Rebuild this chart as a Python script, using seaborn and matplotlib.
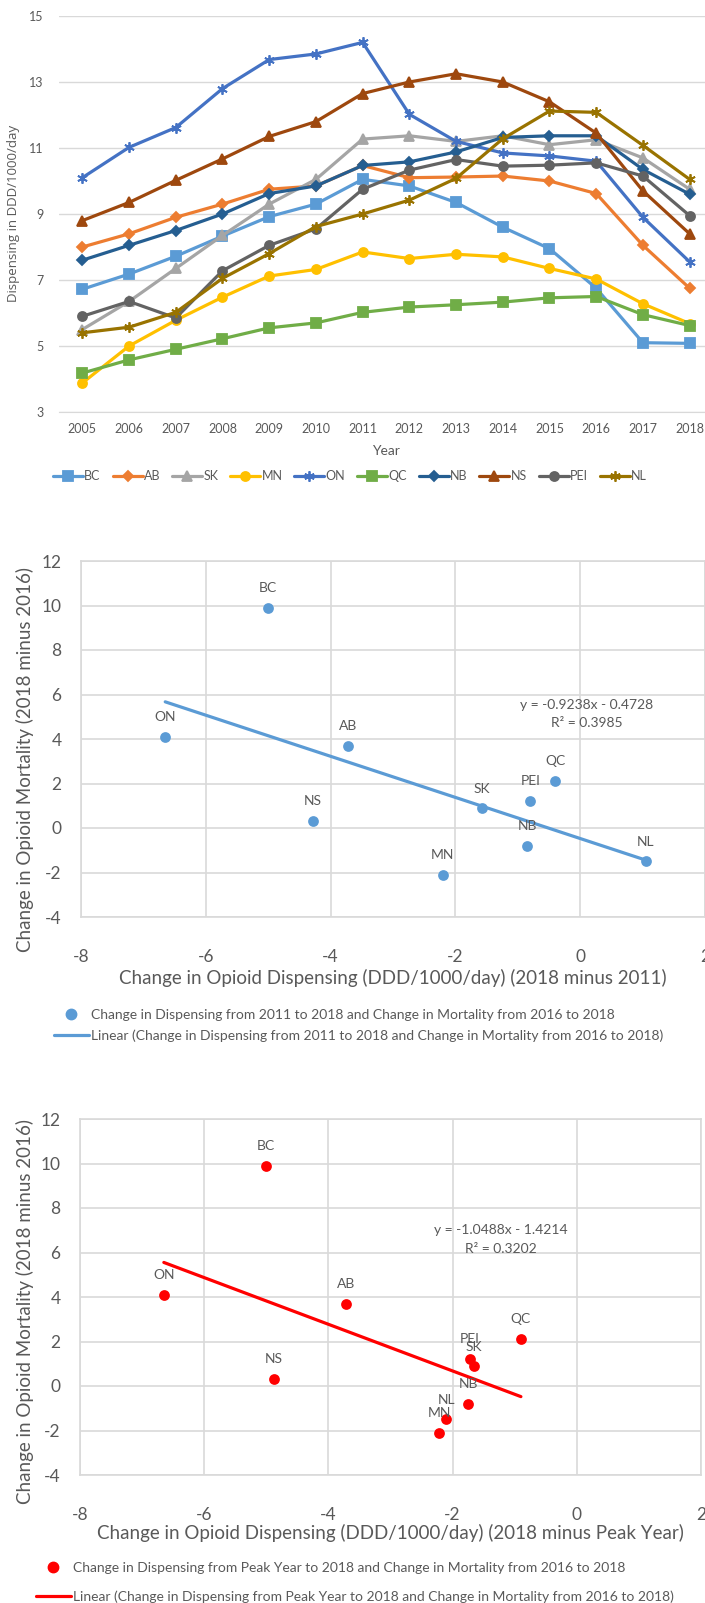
import numpy as np
import pandas as pd
import matplotlib
matplotlib.use("Agg")
import matplotlib.pyplot as plt
import seaborn as sns
from matplotlib.lines import Line2D
from matplotlib.colors import to_hex

# ---------------- data ----------------
years = list(range(2005, 2019))
provinces = ["BC", "AB", "SK", "MN", "ON", "QC", "NB", "NS", "PEI", "NL"]

bc  = [6.72, 7.18, 7.72, 8.33, 8.92, 9.30, 10.05, 9.85, 9.35, 8.60, 7.95, 6.75, 5.10, 5.08]
ab  = [8.00, 8.40, 8.90, 9.30, 9.75, 9.85, 10.47, 10.10, 10.12, 10.15, 10.00, 9.62, 8.05, 6.75]
sk  = [5.50, 6.35, 7.35, 8.35, 9.30, 10.05, 11.27, 11.37, 11.20, 11.37, 11.10, 11.25, 10.70, 9.75]
mn  = [3.88, 5.00, 5.78, 6.48, 7.12, 7.32, 7.85, 7.65, 7.78, 7.70, 7.35, 7.03, 6.28, 5.68]
on  = [10.10, 11.02, 11.62, 12.80, 13.68, 13.85, 14.20, 12.02, 11.20, 10.85, 10.76, 10.60, 8.90, 7.55]
qc  = [4.18, 4.58, 4.90, 5.22, 5.55, 5.70, 6.02, 6.18, 6.25, 6.33, 6.46, 6.50, 5.95, 5.62]
nb  = [7.60, 8.05, 8.50, 9.00, 9.62, 9.85, 10.47, 10.58, 10.88, 11.32, 11.37, 11.37, 10.35, 9.60]
ns  = [8.80, 9.35, 10.02, 10.67, 11.35, 11.80, 12.65, 13.00, 13.25, 13.00, 12.40, 11.45, 9.70, 8.40]
pei = [5.90, 6.35, 5.85, 7.28, 8.05, 8.55, 9.75, 10.33, 10.65, 10.45, 10.48, 10.55, 10.15, 8.95]
nl  = [5.40, 5.57, 6.02, 7.05, 7.80, 8.62, 9.00, 9.42, 10.08, 11.28, 12.12, 12.08, 11.08, 10.05]
series = [bc, ab, sk, mn, on, qc, nb, ns, pei, nl]

# scatter 1: change 2011->2018 vs mortality change 2016->2018
s1_labels = ["BC", "ON", "AB", "NS", "MN", "SK", "PEI", "QC", "NB", "NL"]
s1_x = [-5.00, -6.65, -3.72, -4.28, -2.20, -1.57, -0.80, -0.40, -0.85, 1.05]
s1_y = [9.90, 4.10, 3.70, 0.32, -2.10, 0.90, 1.22, 2.12, -0.80, -1.50]
s1_slope, s1_int = -0.9238, -0.4728
s1_eq = ["y = -0.9238x - 0.4728", "R\u00b2 = 0.3985"]

# scatter 2: change peak->2018 vs mortality change 2016->2018
s2_labels = ["BC", "ON", "AB", "NS", "MN", "NL", "NB", "PEI", "SK", "QC"]
s2_x = [-5.00, -6.65, -3.72, -4.88, -2.22, -2.10, -1.75, -1.72, -1.66, -0.90]
s2_y = [9.90, 4.10, 3.70, 0.32, -2.10, -1.50, -0.80, 1.22, 0.90, 2.12]
s2_slope, s2_int = -1.0488, -1.4214
s2_eq = ["y = -1.0488x - 1.4214", "R\u00b2 = 0.3202"]

# ---------------- styling ----------------
colors = ["#5B9BD5", "#ED7D31", "#A5A5A5", "#FFC000", "#4472C4",
          "#70AD47", "#255E91", "#9E480E", "#636363", "#997300"]
marks = ["s", "D", "^", "o", "X", "s", "D", "^", "o", "X"]
palette = dict(zip(provinces, colors))
markers = dict(zip(provinces, marks))
star_colors = {"#4472c4", "#997300"}

W, H = 705, 1603
sns.set_style("white")
plt.rcParams["font.family"] = ["Lato", "DejaVu Sans"]
plt.rcParams["axes.unicode_minus"] = False
TXT = "#595959"
GRID = "#D9D9D9"

fig = plt.figure(figsize=(W / 100, H / 100), dpi=100)


def add_ax(l, t, r, b):
    return fig.add_axes([l / W, 1 - b / H, (r - l) / W, (b - t) / H])


def fx(x):
    return x / W


def fy(y):
    return 1 - y / H


def style_line(ln):
    c = to_hex(ln.get_color())
    ln.set_markeredgecolor(c)
    ln.set_markerfacecolor(c)
    ln.set_markeredgewidth(1.3)
    if c in star_colors:
        ln.set_marker((6, 2, 0))
        ln.set_markersize(7.5)
    elif ln.get_marker() == "D":
        ln.set_markersize(5)


# ================= Chart 1 =================
df = pd.DataFrame({
    "Year": np.tile(years, len(provinces)),
    "Province": np.repeat(provinces, len(years)),
    "Value": np.concatenate(series),
})
ax1 = add_ax(59, 16, 713, 412)
sns.lineplot(data=df, x="Year", y="Value", hue="Province", style="Province",
             hue_order=provinces, style_order=provinces, palette=palette,
             markers=markers, dashes=False, lw=2.3, markersize=6.5, ax=ax1)
for ln in ax1.lines:
    style_line(ln)
handles, labels = ax1.get_legend_handles_labels()
for h in handles:
    style_line(h)
    h.set_linewidth(2.3)
ax1.get_legend().remove()
ax1.set_xlim(2004.5, 2018.5)
ax1.set_ylim(3, 15)
ax1.set_yticks(range(3, 16, 2))
ax1.set_xticks(years)
ax1.set_xticks(np.arange(2004.5, 2019, 1), minor=True)
ax1.set_xlabel("")
ax1.set_ylabel("")
ax1.yaxis.grid(True, color=GRID, lw=1)
ax1.xaxis.grid(False)
for s in ["left", "top", "right"]:
    ax1.spines[s].set_visible(False)
ax1.spines["bottom"].set_color(GRID)
ax1.tick_params(axis="x", which="major", length=0, pad=8, labelsize=9, labelcolor=TXT)
ax1.tick_params(axis="x", which="minor", length=5, color=GRID, direction="inout")
ax1.tick_params(axis="y", length=0, pad=11, labelsize=9, labelcolor=TXT)
fig.text(fx(14), fy(213), "Dispensing in DDD/1000/day", rotation=90, ha="center",
         va="center", fontsize=9.5, color=TXT, family=["Open Sans", "DejaVu Sans"])
fig.text(fx(386), fy(451), "Year", ha="center", va="center", fontsize=10, color=TXT)
fig.legend(handles, labels, loc="center", bbox_to_anchor=(fx(350), fy(476)), ncol=10,
           frameon=False, fontsize=9, handlelength=2.4, columnspacing=0.95,
           handletextpad=0.1, labelcolor=TXT)


# ================= Scatter charts =================
def scatter_chart(box, xs, ys, labs, slope, inter, eq, color, eq_xy, xtitle,
                  leg_label, title_y, ylab_y, leg_y, leg_x, leg_space):
    ax = add_ax(*box)
    sdf = pd.DataFrame({"x": xs, "y": ys, "lab": labs})
    sns.scatterplot(data=sdf, x="x", y="y", color=color, s=60, edgecolor=color,
                    linewidth=0, ax=ax, zorder=3, label=leg_label)
    tx = np.array([min(xs), max(xs)])
    ax.plot(tx, slope * tx + inter, color=color, lw=2.3, zorder=2,
            label="Linear (" + leg_label + ")")
    for xv, yv, lb in zip(xs, ys, labs):
        ax.annotate(lb, (xv, yv), xytext=(0, 14), textcoords="offset points",
                    ha="center", va="center", fontsize=10, color=TXT)
    ax.text(eq_xy[0], eq_xy[1], eq[0], ha="center", va="center", fontsize=10, color=TXT)
    ax.text(eq_xy[0], eq_xy[1] - 0.85, eq[1], ha="center", va="center", fontsize=10, color=TXT)
    ax.set_xlim(-8, 2)
    ax.set_ylim(-4, 12)
    ax.set_xticks(range(-8, 3, 2))
    ax.set_yticks(range(-4, 13, 2))
    ax.grid(True, color=GRID, lw=1.2)
    for s in ax.spines.values():
        s.set_color(GRID)
        s.set_linewidth(1.2)
    ax.tick_params(length=0, labelsize=12.5, labelcolor=TXT)
    ax.tick_params(axis="x", pad=23)
    ax.tick_params(axis="y", pad=14)
    ax.set_xlabel("")
    ax.set_ylabel("")
    h, l = ax.get_legend_handles_labels()
    ax.get_legend().remove()
    fig.text(fx((box[0] + box[2]) / 2), fy(title_y), xtitle, ha="center", va="center",
             fontsize=13.5, color=TXT)
    fig.text(fx(25), fy(ylab_y), "Change in Opioid Mortality (2018 minus 2016)",
             rotation=90, ha="center", va="center", fontsize=13.5, color=TXT)
    dot = Line2D([], [], ls="none", marker="o", ms=7.5, color=color)
    line = Line2D([], [], color=color, lw=2.3)
    fig.legend([dot, line], [l[0], l[1]], loc="upper left",
               bbox_to_anchor=(fx(leg_x), fy(leg_y)), frameon=False, fontsize=10,
               handlelength=2.5, handletextpad=0.15, labelspacing=leg_space,
               labelcolor=TXT, borderaxespad=0, borderpad=0)
    return ax


scatter_chart((81, 561, 705, 917), s1_x, s1_y, s1_labels, s1_slope, s1_int, s1_eq,
              "#5B9BD5", (0.1, 5.55),
              "Change in Opioid Dispensing (DDD/1000/day) (2018 minus 2011)",
              "Change in Dispensing from 2011 to 2018 and Change in Mortality from 2016 to 2018",
              978, 759, 1009, 54, 0.6)

scatter_chart((80, 1119, 701, 1475), s2_x, s2_y, s2_labels, s2_slope, s2_int, s2_eq,
              "#FF0000", (-1.22, 7.0),
              "Change in Opioid Dispensing (DDD/1000/day) (2018 minus Peak Year)",
              "Change in Dispensing from Peak Year to 2018 and Change in Mortality from 2016 to 2018",
              1533, 1311, 1562, 36, 1.2)

fig.savefig("out.png", dpi=100)
